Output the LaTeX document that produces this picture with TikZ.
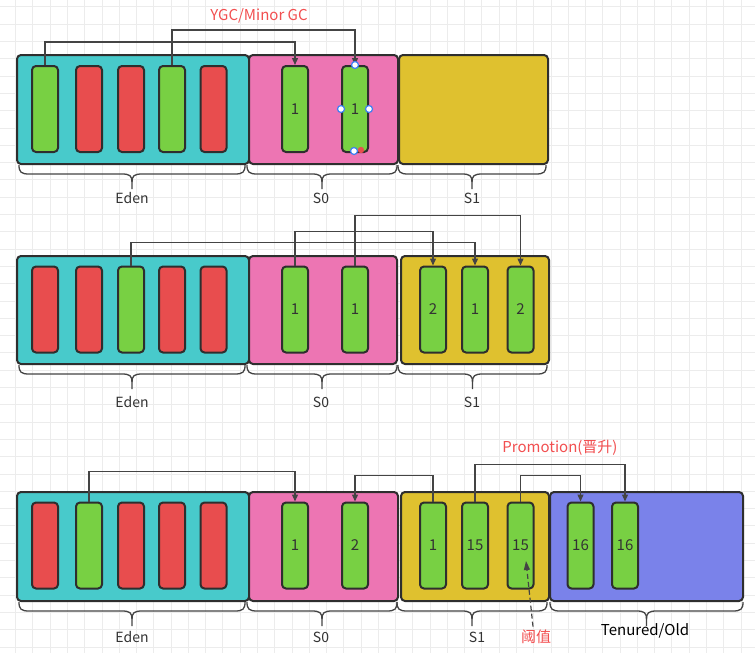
\documentclass[tikz,border=0pt]{standalone}
\usepackage{fontspec}
\newfontfamily\cjk{Noto Sans CJK SC}
\usetikzlibrary{arrows.meta}
\definecolor{edenc}{HTML}{48CACB}
\definecolor{s0c}{HTML}{ED75B3}
\definecolor{s1c}{HTML}{DFC12F}
\definecolor{oldc}{HTML}{7A82EA}
\definecolor{greenc}{HTML}{78D043}
\definecolor{redc}{HTML}{E84D4E}
\definecolor{bordc}{HTML}{2E2E2E}
\definecolor{connc}{HTML}{444444}
\definecolor{txtc}{HTML}{333333}
\definecolor{redtxt}{HTML}{F24F50}
\definecolor{gridc}{HTML}{ECECEC}
\definecolor{handleb}{HTML}{3D7FF5}
\newcommand{\hbr}[3]{%
 \draw[bracel] (#1,#3+2) .. controls (#1,#3+9) and (#1+2,#3+11) .. (#1+10,#3+11)
  -- ({(#1+#2)/2-10},#3+11) .. controls ({(#1+#2)/2-2},#3+11) and ({(#1+#2)/2},#3+13) .. ({(#1+#2)/2},#3+19) -- ({(#1+#2)/2},#3+26);
 \draw[bracel] ({(#1+#2)/2},#3+19) .. controls ({(#1+#2)/2},#3+13) and ({(#1+#2)/2+2},#3+11) .. ({(#1+#2)/2+10},#3+11)
  -- (#2-10,#3+11) .. controls (#2-2,#3+11) and (#2,#3+9) .. (#2,#3+2);
}
\tikzset{
 every node/.style={font=\cjk},
 box/.style={draw=bordc, line width=2pt, rounded corners=4pt, anchor=north west, inner sep=0pt},
 bar/.style={draw=bordc, line width=2pt, rounded corners=4pt, minimum width=26pt, minimum height=86pt, inner sep=0pt, text=txtc, font=\cjk\fontsize{15}{18}\selectfont},
 gbar/.style={bar, fill=greenc},
 rbar/.style={bar, fill=redc},
 conn/.style={draw=connc, line width=1.3pt, -{Triangle[length=7pt,width=6pt]}},
 dconn/.style={draw=connc, line width=1.2pt, dash pattern=on 5pt off 3pt, -{Triangle[length=9pt,width=6pt]}},
 lbl/.style={text=txtc, font=\cjk\fontsize{14}{16}\selectfont},
 redlbl/.style={text=redtxt, font=\cjk\fontsize{15}{18}\selectfont},
 gridline/.style={draw=gridc, line width=1pt},
 bracel/.style={draw=connc, line width=1.3pt},
 handle/.style={circle, draw=handleb, fill=white, line width=1.2pt, minimum size=7pt, inner sep=0pt},
}
\begin{document}
\begin{tikzpicture}[x=1pt,y=-1pt]
\useasboundingbox (0,0) rectangle (755,653);
\fill[white] (0,0) rectangle (755,653);
\foreach \i in {0,...,42} {\draw[gridline] ({15.7+17.27*\i},0) -- ({15.7+17.27*\i},653);}
\foreach \j in {0,...,37} {\draw[gridline] (0,{6.9+17.3*\j}) -- (755,{6.9+17.3*\j});}

% ---------------- Row 1
\node[box, fill=edenc, minimum width=232pt, minimum height=109pt] (eden1) at (16,54) {};
\node[box, fill=s0c, minimum width=149pt, minimum height=109pt] (s0a) at (248,54) {};
\node[box, fill=s1c, minimum width=149pt, minimum height=109pt] (s1a) at (398,54) {};
\node[gbar] (a1) at (45,109) {};
\node[rbar] (a2) at (89,109) {};
\node[rbar] (a3) at (131,109) {};
\node[gbar] (a4) at (172,109) {};
\node[rbar] (a5) at (213.5,109) {};
\node[gbar] (a6) at (295,109) {1};
\node[gbar] (a7) at (355,109) {1};
\draw[conn] (a1.north) -- ++(0,-23) -| (a6.north);
\draw[conn] (a4.north) -- ++(0,-35) -| (a7.north);
\node[redlbl] (ygc) at (259,16) {YGC/Minor GC};
\fill[redc] (361,150) circle (3.2pt);
\node[handle] (h1) at (a7.north) {};
\node[handle] (h2) at (a7.west) {};
\node[handle] (h3) at (a7.east) {};
\node[handle] (h4) at (354,151) {};
\hbr{19}{245}{163}
\hbr{247}{397}{163}
\hbr{398}{546}{163}
\node[lbl] (le1) at (132,198) {Eden};
\node[lbl] (ls01) at (321,198) {S0};
\node[lbl] (ls11) at (472,198) {S1};

% ---------------- Row 2
\node[box, fill=edenc, minimum width=232pt, minimum height=108pt] (eden2) at (16,255) {};
\node[box, fill=s0c, minimum width=148pt, minimum height=108pt] (s0b) at (248,255) {};
\node[box, fill=s1c, minimum width=148pt, minimum height=108pt] (s1b) at (400,255) {};
\node[rbar] (b1) at (45,309.5) {};
\node[rbar] (b2) at (89,309.5) {};
\node[gbar] (b3) at (131,309.5) {};
\node[rbar] (b4) at (172,309.5) {};
\node[rbar] (b5) at (213.5,309.5) {};
\node[gbar] (b6) at (295,309.5) {1};
\node[gbar] (b7) at (355,309.5) {1};
\node[gbar] (b8) at (433,309.5) {2};
\node[gbar] (b9) at (475,309.5) {1};
\node[gbar] (b10) at (520.5,309.5) {2};
\draw[conn] (b3.north) -- ++(0,-23) -| (b9.north);
\draw[conn] (b6.north) -- ++(0,-34) -| (b8.north);
\draw[conn] (b7.north) -- ++(0,-50) -| (b10.north);
\hbr{19}{245}{363}
\hbr{247}{397}{363}
\hbr{398}{547}{363}
\node[lbl] (le2) at (132,402) {Eden};
\node[lbl] (ls02) at (321,402) {S0};
\node[lbl] (ls12) at (472,402) {S1};

% ---------------- Row 3
\node[box, fill=edenc, minimum width=232pt, minimum height=109pt] (eden3) at (16,491) {};
\node[box, fill=s0c, minimum width=149pt, minimum height=109pt] (s0c3) at (248,491) {};
\node[box, fill=s1c, minimum width=148pt, minimum height=109pt] (s1c3) at (400,491) {};
\node[box, fill=oldc, minimum width=193pt, minimum height=109pt] (old3) at (549,491) {};
\node[rbar] (c1) at (45,545.5) {};
\node[gbar] (c2) at (89,545.5) {};
\node[rbar] (c3) at (131,545.5) {};
\node[rbar] (c4) at (172,545.5) {};
\node[rbar] (c5) at (213.5,545.5) {};
\node[gbar] (c6) at (295,545.5) {1};
\node[gbar] (c7) at (355,545.5) {2};
\node[gbar] (c8) at (433,545.5) {1};
\node[gbar] (c9) at (475,545.5) {15};
\node[gbar] (c10) at (520.5,545.5) {15};
\node[gbar] (c11) at (580.5,545.5) {16};
\node[gbar] (c12) at (625,545.5) {16};
\draw[conn] (c2.north) -- ++(0,-30) -| (c6.north);
\draw[conn] (c8.north) -- ++(0,-26) -| (c7.north);
\draw[conn] (c9.north) -- ++(0,-37) -| (c12.north);
\draw[conn] (c10.north) -- ++(0,-26) -| (c11.north);
\node[redlbl] (promo) at (560,448) {Promotion(晋升)};
\hbr{19}{245}{600}
\hbr{247}{397}{600}
\hbr{397}{547}{600}
\hbr{550}{743}{600}
\node[lbl] (le3) at (132,637) {Eden};
\node[lbl] (ls03) at (321,637) {S0};
\node[lbl] (ls13) at (477,637) {S1};
\node[redlbl] (th) at (536,637) {阈值};
\coordinate (thtip) at (526,561);
\draw[dconn] ([xshift=-3pt]th.north) -- (thtip);
\node[text=black, font=\cjk\fontsize{15}{18}\selectfont] (tenured) at (645,631) {Tenured/Old};
\end{tikzpicture}
\end{document}
